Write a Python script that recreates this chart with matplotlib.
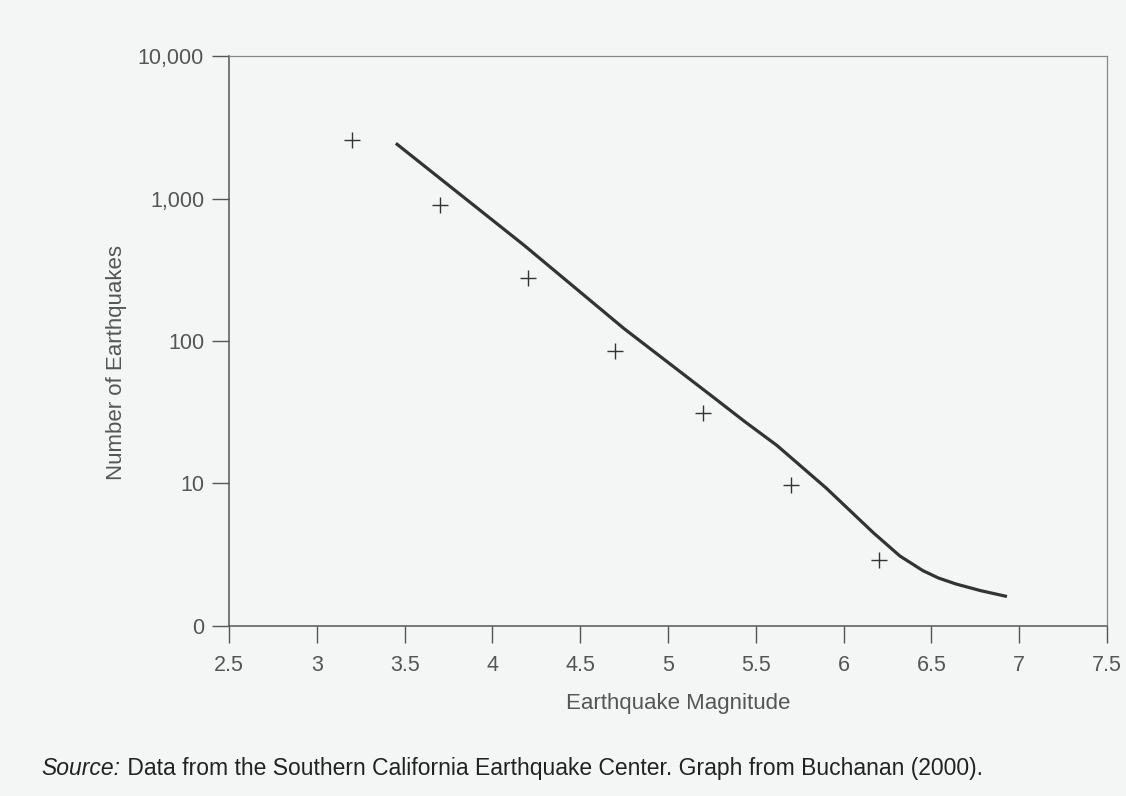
import matplotlib
matplotlib.use("Agg")
import matplotlib.pyplot as plt
from matplotlib.ticker import FixedLocator, NullLocator

# Binned counts (crosses)
magnitude = [3.2, 3.7, 4.2, 4.7, 5.2, 5.7, 6.2]
n_quakes = [2570, 900, 278, 85, 31, 9.8, 2.9]

# Fitted curve
fit_mag = [3.45, 4.18, 4.75, 5.25, 5.44, 5.62, 5.90, 6.17, 6.32, 6.45,
           6.54, 6.64, 6.78, 6.93]
fit_n = [2440, 470, 122, 41, 27, 18.5, 9.3, 4.5, 3.1, 2.45,
         2.17, 1.97, 1.77, 1.61]

x_ticks = [2.5, 3, 3.5, 4, 4.5, 5, 5.5, 6, 6.5, 7, 7.5]
x_tick_labels = ["2.5", "3", "3.5", "4", "4.5", "5", "5.5", "6", "6.5", "7", "7.5"]
y_ticks = [1, 10, 100, 1000, 10000]
y_tick_labels = ["0", "10", "100", "1,000", "10,000"]

BG = "#f4f6f6"
INK = "#333333"
TXT = "#555555"

plt.rcParams["font.family"] = ["Liberation Sans", "DejaVu Sans"]

fig = plt.figure(figsize=(11.26, 7.96), dpi=100, facecolor=BG)
ax = fig.add_axes([0.2034, 0.2136, 0.7798, 0.716], facecolor=BG)

ax.plot(fit_mag, fit_n, color=INK, lw=2.3, solid_capstyle="butt",
        solid_joinstyle="round")
ax.plot(magnitude, n_quakes, linestyle="none", marker="+", markersize=11,
        markeredgewidth=1.0, color=INK)

ax.set_yscale("log")
ax.set_xlim(2.5, 7.5)
ax.set_ylim(1, 10000)

ax.xaxis.set_major_locator(FixedLocator(x_ticks))
ax.set_xticklabels(x_tick_labels)
ax.yaxis.set_major_locator(FixedLocator(y_ticks))
ax.yaxis.set_minor_locator(NullLocator())
ax.set_yticklabels(y_tick_labels)

ax.tick_params(axis="both", direction="out", length=12, width=1.0,
               color="#555555", labelcolor=TXT, labelsize=15.5)
ax.tick_params(axis="x", pad=9)
ax.tick_params(axis="y", pad=6)

for side in ["left", "bottom"]:
    ax.spines[side].set_color("#555555")
    ax.spines[side].set_linewidth(1.1)
for side in ["top", "right"]:
    ax.spines[side].set_color("#888888")
    ax.spines[side].set_linewidth(0.9)

ax.set_xlabel("Earthquake Magnitude", fontsize=16, color=TXT)
ax.set_ylabel("Number of Earthquakes", fontsize=16, color=TXT)
ax.xaxis.set_label_coords(0.511, -0.118)
ax.yaxis.set_label_coords(-0.116, 0.463)

# Source line under the chart, "Source:" in italics
src = fig.text(0.037, 0.026, "Source:", fontsize=16.5, style="italic",
               color="#222222")
ax.annotate(" Data from the Southern California Earthquake Center. Graph from Buchanan (2000).",
            xy=(1, 0), xycoords=src, va="bottom", ha="left", fontsize=16.5,
            color="#222222", annotation_clip=False)

fig.savefig("out.png", dpi=100, facecolor=BG)
